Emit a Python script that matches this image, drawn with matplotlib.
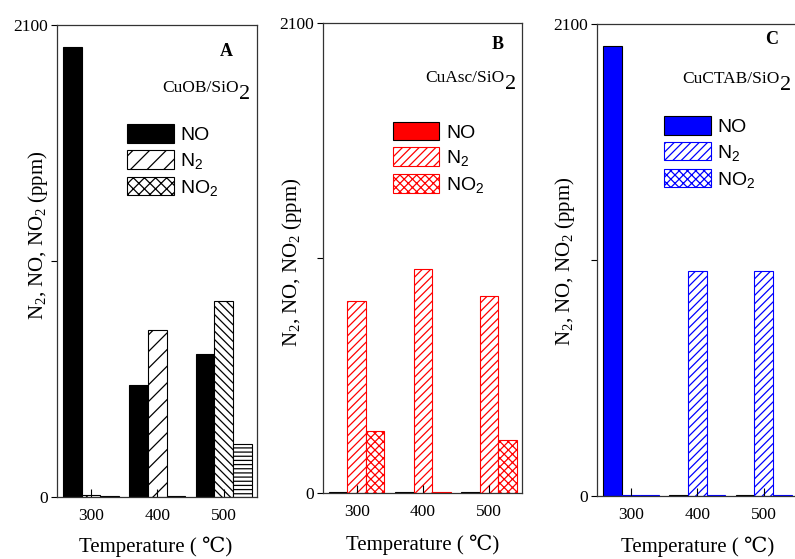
import numpy as np
import matplotlib
matplotlib.use("Agg")
import matplotlib.pyplot as plt
from matplotlib.patches import Patch

plt.rcParams['font.family'] = ['Liberation Serif', 'DejaVu Serif', 'DejaVu Sans']
plt.rcParams['hatch.linewidth'] = 0.9

# datos (ppm)
temperaturas = [300, 400, 500]
etiquetas_temp = ['300', '400', '500']

no_A = [2000, 500, 636]
n2_A = [8, 745, 873]
no2_A = [5, 5, 236]

no_B = [5, 5, 5]
n2_B = [858, 1000, 880]
no2_B = [277, 5, 237]

no_C = [2000, 5, 5]
n2_C = [5, 1000, 1000]
no2_C = [5, 5, 5]

muestras = ['CuOB/SiO', 'CuAsc/SiO', 'CuCTAB/SiO']
letras = ['A', 'B', 'C']

ancho = 28
ylabel = r'$\mathregular{N_2}$, NO, $\mathregular{NO_2}$ (ppm)'
xlabel = 'Temperature ( \u2103)'

fig = plt.figure(figsize=(7.95, 5.59), dpi=100)


# dibuja un panel con las tres series de barras
def panel(pos, no, n2, no2, color, hatch_n2, hatch_no2, letra, muestra,
          pos_letra, pos_muestra, pos_leyenda, borde_no='black'):
    ax = fig.add_axes(pos)
    x = np.array(temperaturas, dtype=float)
    ax.bar(x - ancho, no, ancho, color=color, edgecolor=borde_no, linewidth=0.8)
    for i in range(len(x)):
        ax.bar(x[i], n2[i], ancho, facecolor='white', edgecolor=color,
               hatch=hatch_n2[i], linewidth=0.8)
        ax.bar(x[i] + ancho, no2[i], ancho, facecolor='white', edgecolor=color,
               hatch=hatch_no2[i], linewidth=0.8)
    ax.set_xlim(249, 550)
    ax.set_ylim(0, 2100)
    ax.set_yticks([0, 1050, 2100])
    ax.set_yticklabels(['0', '', '2100'])
    ax.set_xticks(temperaturas)
    ax.set_xticklabels(etiquetas_temp)
    ax.tick_params(axis='x', direction='in', length=6, width=0.8, labelsize=12.5, pad=8)
    ax.tick_params(axis='y', direction='out', length=4.5, width=0.8, labelsize=12.5, pad=2)
    for s in ax.spines.values():
        s.set_linewidth(0.9)
        s.set_color('#333333')

    ax.text(pos_letra[0], pos_letra[1], letra, transform=ax.transAxes,
            fontsize=13, fontweight='bold', ha='center', va='center')
    t = ax.text(pos_muestra[0], pos_muestra[1], muestra, transform=ax.transAxes,
                fontsize=12.5, ha='left', va='baseline')
    # el "2" del SiO2 va mas grande y mas abajo, como en el original
    ax.annotate('2', xy=(1, 0), xycoords=t, fontsize=16, ha='left', va='baseline',
                xytext=(0.3, -2), textcoords='offset points')

    handles = [
        Patch(facecolor=color, edgecolor=borde_no, linewidth=0.8),
        Patch(facecolor='white', edgecolor=color, hatch=hatch_n2[0], linewidth=0.8),
        Patch(facecolor='white', edgecolor=color, hatch=hatch_no2[0], linewidth=0.8),
    ]
    ax.legend(handles, ['NO', r'$\mathregular{N_2}$', r'$\mathregular{NO_2}$'],
              loc='upper left', bbox_to_anchor=pos_leyenda, frameon=False,
              prop={'family': ['Liberation Sans', 'DejaVu Sans'], 'size': 14},
              handlelength=2.4, handleheight=1.1, handletextpad=0.35,
              labelspacing=0.3, borderpad=0, borderaxespad=0)
    return ax


panel([0.0717, 0.1109, 0.2516, 0.8444], no_A, n2_A, no2_A, 'black',
      ['//', '//', '\\\\\\\\'], ['xxx', 'xxx', '----'], letras[0], muestras[0],
      (0.845, 0.943), (0.525, 0.858), (0.35, 0.79))
panel([0.4063, 0.1181, 0.2503, 0.8408], no_B, n2_B, no2_B, '#ff0000',
      ['////', '////', '////'], ['xxxx', 'xxxx', 'xxxx'], letras[1], muestras[1],
      (0.879, 0.955), (0.513, 0.874), (0.35, 0.79))
panel([0.7509, 0.1127, 0.2516, 0.8444], no_C, n2_C, no2_C, '#0000ff',
      ['////', '////', '////'], ['xxxx', 'xxxx', 'xxxx'], letras[2], muestras[2],
      (0.875, 0.968), (0.425, 0.875), (0.335, 0.805))

# etiquetas de los ejes
for xl, yl in [((0.196, 0.0215), (0.048, 0.580)),
               ((0.532, 0.025), (0.367, 0.531)),
               ((0.877, 0.0215), (0.711, 0.533))]:
    fig.text(xl[0], xl[1], xlabel, fontsize=15, ha='center', va='center')
    fig.text(yl[0], yl[1], ylabel, fontsize=15, ha='center', va='center', rotation=90)

fig.savefig('out.png', dpi=100)
